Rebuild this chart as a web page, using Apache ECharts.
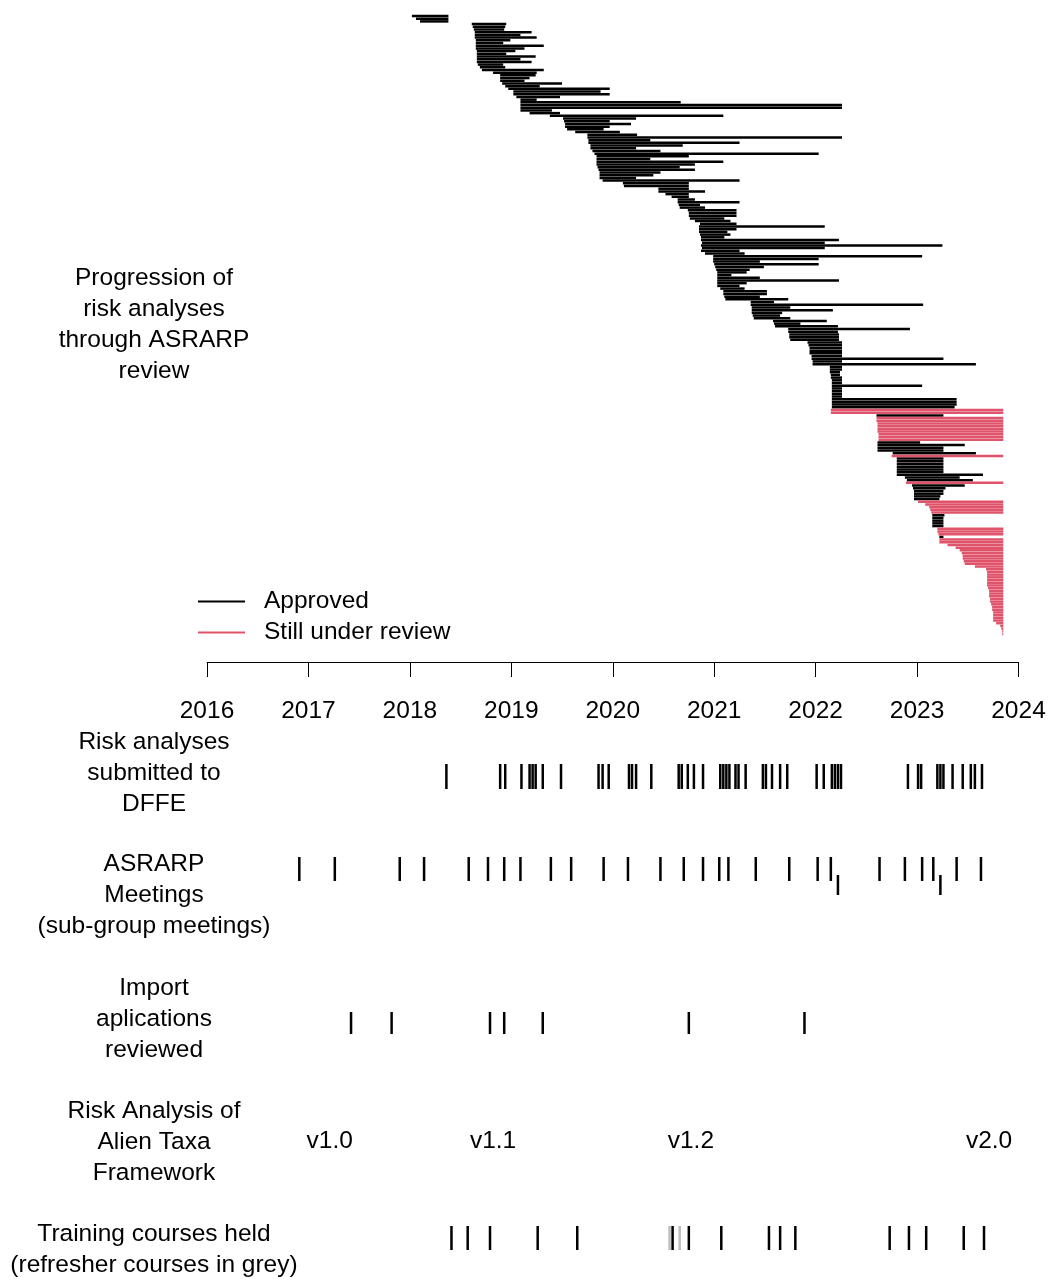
<!DOCTYPE html>
<html><head><meta charset="utf-8">
<script src="https://cdn.jsdelivr.net/npm/echarts@6/dist/echarts.min.js"></script>
<style>html,body{margin:0;padding:0;background:#fff}#c{width:1051px;height:1279px}</style>
</head><body><div id="c"></div>
<script>
// ---------- DATA ----------
// Each risk analysis: start of review (decimal year) and end (approval or today)
const startYear = [
2018.02,2018.06,2018.10,2018.61,2018.62,2018.63,2018.64,2018.64,2018.64,2018.65,
2018.65,2018.65,2018.65,2018.66,2018.66,2018.66,2018.66,2018.66,2018.67,2018.69,
2018.71,2018.82,2018.89,2018.89,2018.89,2018.91,2018.94,2018.97,2019.02,2019.02,
2019.05,2019.09,2019.09,2019.09,2019.09,2019.09,2019.18,2019.38,2019.51,2019.52,
2019.53,2019.53,2019.55,2019.63,2019.75,2019.75,2019.76,2019.76,2019.78,2019.78,
2019.80,2019.82,2019.84,2019.84,2019.84,2019.84,2019.85,2019.86,2019.87,2019.87,
2019.87,2019.90,2020.10,2020.11,2020.45,2020.45,2020.52,2020.58,2020.64,2020.64,
2020.65,2020.66,2020.74,2020.75,2020.75,2020.76,2020.81,2020.86,2020.85,2020.85,
2020.85,2020.86,2020.87,2020.87,2020.88,2020.87,2020.88,2020.87,2020.91,2020.99,
2020.99,2020.99,2021.00,2021.01,2021.02,2021.03,2021.03,2021.03,2021.03,2021.03,
2021.03,2021.06,2021.09,2021.09,2021.10,2021.11,2021.36,2021.36,2021.37,2021.37,
2021.37,2021.38,2021.39,2021.58,2021.59,2021.60,2021.73,2021.73,2021.74,2021.74,
2021.75,2021.92,2021.93,2021.94,2021.94,2021.94,2021.96,2021.96,2021.97,2021.97,
2022.14,2022.14,2022.14,2022.15,2022.15,2022.16,2022.16,2022.16,2022.16,2022.16,
2022.16,2022.16,2022.16,2022.16,2022.16,2022.16,2022.15,2022.15,2022.60,2022.60,
2022.60,2022.61,2022.61,2022.61,2022.61,2022.62,2022.62,2022.62,2022.61,2022.61,
2022.61,2022.61,2022.76,2022.75,2022.80,2022.80,2022.80,2022.80,2022.80,2022.80,
2022.80,2022.88,2022.90,2022.89,2022.95,2022.96,2022.97,2022.97,2022.97,2022.97,
2023.01,2023.08,2023.12,2023.13,2023.14,2023.15,2023.15,2023.15,2023.15,2023.15,
2023.20,2023.20,2023.21,2023.22,2023.22,2023.22,2023.30,2023.38,2023.42,2023.44,
2023.45,2023.45,2023.46,2023.47,2023.57,2023.68,2023.69,2023.69,2023.69,2023.69,
2023.69,2023.69,2023.70,2023.71,2023.71,2023.71,2023.72,2023.72,2023.73,2023.74,
2023.74,2023.75,2023.75,2023.75,2023.75,2023.78,2023.82,2023.83,2023.84,2023.84
];
const endYear = [
2018.38,2018.38,2018.38,2018.95,2018.94,2018.93,2019.20,2019.09,2019.25,2018.99,
2018.92,2019.32,2019.13,2019.04,2018.95,2019.24,2019.09,2019.20,2018.92,2018.94,
2019.32,2019.25,2019.24,2019.18,2019.13,2019.50,2019.28,2019.97,2019.88,2019.97,
2019.48,2019.25,2020.67,2022.26,2022.26,2019.40,2019.48,2021.09,2020.23,2019.97,
2020.18,2019.97,2019.91,2020.07,2020.24,2022.26,2020.37,2021.25,2020.69,2020.23,
2020.47,2022.03,2020.75,2020.37,2021.09,2020.81,2020.66,2020.81,2020.47,2020.40,
2020.23,2021.25,2020.75,2020.75,2020.75,2020.91,2020.75,2020.75,2020.81,2021.25,
2020.86,2020.91,2021.22,2021.22,2021.22,2021.10,2021.16,2021.22,2022.09,2021.22,
2021.13,2021.16,2021.10,2022.23,2022.09,2023.25,2022.09,2021.25,2021.30,2023.05,
2022.03,2021.45,2022.03,2021.49,2021.35,2021.32,2021.17,2021.45,2022.23,2021.32,
2021.25,2021.30,2021.52,2021.52,2021.45,2021.73,2021.59,2023.06,2021.75,2022.17,
2021.67,2021.65,2021.75,2022.11,2021.85,2022.22,2022.93,2022.22,2022.23,2022.23,
2022.23,2022.26,2022.26,2022.26,2022.26,2022.26,2022.26,2023.26,2022.26,2023.58,
2022.26,2022.26,2022.24,2022.24,2022.26,2022.26,2022.26,2023.05,2022.26,2022.26,
2022.26,2022.26,2023.39,2023.39,2023.39,2023.37,2023.85,2023.85,2023.26,2023.85,
2023.85,2023.85,2023.85,2023.85,2023.85,2023.85,2023.85,2023.85,2023.03,2023.47,
2023.26,2023.26,2023.58,2023.85,2023.26,2023.26,2023.26,2023.26,2023.26,2023.26,
2023.65,2023.42,2023.55,2023.85,2023.47,2023.28,2023.26,2023.26,2023.23,2023.22,
2023.85,2023.85,2023.85,2023.85,2023.85,2023.27,2023.26,2023.26,2023.26,2023.26,
2023.85,2023.85,2023.85,2023.26,2023.85,2023.85,2023.85,2023.85,2023.85,2023.85,
2023.85,2023.85,2023.85,2023.85,2023.85,2023.85,2023.85,2023.85,2023.85,2023.85,
2023.85,2023.85,2023.85,2023.85,2023.85,2023.85,2023.85,2023.85,2023.85,2023.85,
2023.85,2023.85,2023.85,2023.85,2023.85,2023.85,2023.85,2023.85,2023.85,2023.85
];
// 1 = still under review, 0 = approved (one line = 10 analyses)
const underReview = [
0,0,0,0,0,0,0,0,0,0,
0,0,0,0,0,0,0,0,0,0,
0,0,0,0,0,0,0,0,0,0,
0,0,0,0,0,0,0,0,0,0,
0,0,0,0,0,0,0,0,0,0,
0,0,0,0,0,0,0,0,0,0,
0,0,0,0,0,0,0,0,0,0,
0,0,0,0,0,0,0,0,0,0,
0,0,0,0,0,0,0,0,0,0,
0,0,0,0,0,0,0,0,0,0,
0,0,0,0,0,0,0,0,0,0,
0,0,0,0,0,0,0,0,0,0,
0,0,0,0,0,0,0,0,0,0,
0,0,0,0,0,0,0,0,0,0,
0,0,0,0,0,0,1,1,0,1,
1,1,1,1,1,1,1,1,0,0,
0,0,0,1,0,0,0,0,0,0,
0,0,0,1,0,0,0,0,0,0,
1,1,1,1,1,0,0,0,0,0,
1,1,1,0,1,1,1,1,1,1,
1,1,1,1,1,1,1,1,1,1,
1,1,1,1,1,1,1,1,1,1,
1,1,1,1,1,1,1,1,1,1
];
const yearTicks = [2016,2017,2018,2019,2020,2021,2022,2023,2024];
const submittedDates = [2018.36,2018.89,2018.94,2019.10,2019.18,2019.21,2019.24,2019.31,2019.49,2019.86,
  2019.90,2019.96,2020.16,2020.19,2020.23,2020.38,2020.65,2020.68,2020.74,2020.80,2020.89,2021.06,
  2021.09,2021.12,2021.15,2021.21,2021.24,2021.31,2021.48,2021.51,2021.57,2021.65,2021.72,2022.01,
  2022.08,2022.16,2022.19,2022.22,2022.25,2022.91,2023.01,2023.04,2023.20,2023.23,2023.26,2023.35,
  2023.45,2023.53,2023.57,2023.64];
const meetingDates = [2016.91,2017.26,2017.90,2018.14,2018.58,2018.77,2018.93,2019.09,2019.39,2019.59,
  2019.91,2020.15,2020.47,2020.70,2020.89,2021.05,2021.14,2021.41,2021.74,2022.02,2022.15,2022.63,
  2022.88,2023.05,2023.16,2023.39,2023.63];
const subgroupDates = [2022.22,2023.23];
const importDates = [2017.42,2017.82,2018.79,2018.93,2019.31,2020.75,2021.89];
const frameworkVersions = ['v1.0','v1.1','v1.2','v2.0'];
const frameworkDates = [2017.21,2018.82,2020.77,2023.71];
const trainingDates = [2018.41,2018.57,2018.79,2019.26,2019.65,2020.59,2020.75,2021.07,2021.54,2021.65,
  2021.80,2022.73,2022.92,2023.09,2023.46,2023.66];
const refresherDates = [2020.56,2020.66];
const seriesNames = ['Approved','Still under review'];
const rowLabels = [
  'Progression of\nrisk analyses\nthrough ASRARP\nreview',
  'Risk analyses\nsubmitted to\nDFFE',
  'ASRARP\nMeetings\n(sub-group meetings)',
  'Import\naplications\nreviewed',
  'Risk Analysis of\nAlien Taxa\nFramework',
  'Training courses held\n(refresher courses in grey)'
];

// ---------- LAYOUT / STYLE ----------
const FONT = 'Liberation Sans, Arial, sans-serif';
const FS = 24.5;
const RED = '#DF536B';
const LEFT = 207, RIGHT = 32.5;
const nRows = startYear.length;
const topGrid = {top: 16, height: 618};
const axisLineY = 662;
const labelCenters = [325, 773, 895, 1019, 1142, 1250];
const tickGrids = {
  submitted: {top: 764, height: 25},
  meetings:  {top: 857, height: 24},
  subgroup:  {top: 875, height: 20},
  imports:   {top: 1012, height: 22},
  framework: {top: 1130, height: 22},
  training:  {top: 1226, height: 24}
};

const grids = [Object.assign({left: LEFT, right: RIGHT}, topGrid)];
const xAxes = [{
  gridIndex: 0, type: 'value', min: yearTicks[0], max: yearTicks[yearTicks.length-1], interval: 1,
  position: 'bottom', offset: axisLineY - (topGrid.top + topGrid.height),
  axisLine: {show: true, lineStyle: {color: '#000', width: 1}},
  axisTick: {show: true, length: 15, lineStyle: {color: '#000', width: 1}},
  axisLabel: {show: true, color: '#000', fontSize: FS, fontFamily: FONT, margin: 37,
    formatter: v => String(v), showMinLabel: true, showMaxLabel: true},
  splitLine: {show: false}
}];
const yAxes = [{gridIndex: 0, type: 'value', min: 1, max: nRows, inverse: true, show: false}];

const keys = Object.keys(tickGrids);
keys.forEach((k, i) => {
  grids.push(Object.assign({left: LEFT, right: RIGHT}, tickGrids[k]));
  xAxes.push({gridIndex: i + 1, type: 'value', min: 2016, max: 2024, show: false});
  yAxes.push({gridIndex: i + 1, type: 'value', min: 0, max: 1, show: false});
});
const gi = k => keys.indexOf(k) + 1;

function segRender(color) {
  return function (params, api) {
    const a = api.coord([api.value(0), api.value(2)]);
    const b = api.coord([api.value(1), api.value(2)]);
    return {type: 'line', shape: {x1: a[0], y1: a[1], x2: b[0], y2: b[1]},
      style: {stroke: color, lineWidth: 2.5, lineCap: 'butt'}};
  };
}
function tickRender(color) {
  return function (params, api) {
    const a = api.coord([api.value(0), 0]);
    const b = api.coord([api.value(0), 1]);
    return {type: 'line', shape: {x1: a[0], y1: a[1], x2: b[0], y2: b[1]},
      style: {stroke: color, lineWidth: 2.5, lineCap: 'butt'}};
  };
}
function tickSeries(name, dates, key, color) {
  return {type: 'custom', name: name, xAxisIndex: gi(key), yAxisIndex: gi(key),
    data: dates.map(d => [d, 0]), encode: {x: 0, y: 1}, renderItem: tickRender(color),
    silent: true, clip: false};
}

const approvedRows = [], reviewRows = [];
startYear.forEach((s, i) => {
  const row = [s, endYear[i], i + 1];
  (underReview[i] ? reviewRows : approvedRows).push(row);
});

const series = [
  {type: 'custom', name: seriesNames[0], xAxisIndex: 0, yAxisIndex: 0, data: approvedRows,
    encode: {x: [0, 1], y: 2}, renderItem: segRender('#000'), itemStyle: {color: '#000'}, clip: false},
  {type: 'custom', name: seriesNames[1], xAxisIndex: 0, yAxisIndex: 0, data: reviewRows,
    encode: {x: [0, 1], y: 2}, renderItem: segRender(RED), itemStyle: {color: RED}, clip: false},
  tickSeries('submitted', submittedDates, 'submitted', '#000'),
  tickSeries('meetings', meetingDates, 'meetings', '#000'),
  tickSeries('subgroup', subgroupDates, 'subgroup', '#000'),
  tickSeries('imports', importDates, 'imports', '#000'),
  tickSeries('refresher', refresherDates, 'training', '#BEBEBE'),
  tickSeries('training', trainingDates, 'training', '#000'),
  {type: 'custom', name: 'framework', xAxisIndex: gi('framework'), yAxisIndex: gi('framework'),
    data: frameworkDates.map(d => [d, 0.5]), encode: {x: 0, y: 1}, clip: false,
    renderItem: function (params, api) {
      const p = api.coord([api.value(0), api.value(1)]);
      return {type: 'text', x: p[0], y: p[1], style: {text: frameworkVersions[params.dataIndex],
        fontSize: FS, fontFamily: FONT, fill: '#000', align: 'center', verticalAlign: 'middle'}};
    }}
];

const graphic = rowLabels.map((t, i) => ({
  type: 'text', x: 154, y: labelCenters[i], silent: true,
  style: {text: t, fontSize: FS, fontFamily: FONT, fill: '#000', lineHeight: 31,
    align: 'center', verticalAlign: 'middle', textAlign: 'center', textVerticalAlign: 'middle'}
}));

const chart = echarts.init(document.getElementById('c'), null, {renderer: 'canvas'});
chart.setOption({
  animation: false,
  backgroundColor: '#fff',
  textStyle: {fontFamily: FONT},
  grid: grids, xAxis: xAxes, yAxis: yAxes,
  legend: {
    data: seriesNames, orient: 'vertical', left: 198, top: 586, padding: 0, itemWidth: 47, itemHeight: 2,
    itemGap: 0, icon: 'rect', selectedMode: false,
    textStyle: {fontSize: FS, fontFamily: FONT, color: '#000', lineHeight: 31, padding: [0, 0, 0, 14]}
  },
  graphic: graphic,
  series: series
});
</script></body></html>
